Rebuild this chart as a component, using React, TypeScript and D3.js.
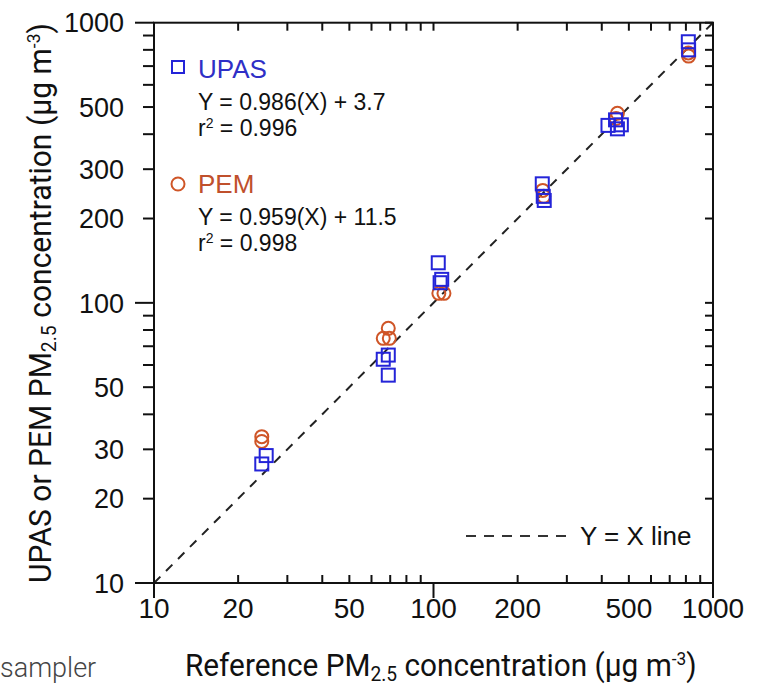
import React, { useLayoutEffect, useRef, useState } from "react";
import * as d3 from "d3";

const xLabelTicks = [10, 20, 50, 100, 200, 500, 1000];
const yLabelTicks = [10, 20, 30, 50, 100, 200, 300, 500, 1000];
const decadeTicks = [10, 100, 1000];

const upasX = [24.3, 25.2, 66.1, 68.9, 68.9, 104, 107, 105.6, 245, 247, 249, 421, 448, 470, 455, 816, 818];
const upasY = [26.6, 28.5, 62.9, 65.1, 55.2, 139, 121.3, 118, 266, 240, 232, 430, 450, 432, 418, 855, 800];
const pemX = [24.3, 24.3, 66.1, 68.9, 69.5, 104.5, 109, 246, 248, 455, 450, 816, 818];
const pemY = [32.0, 33.3, 74.7, 81.1, 74.7, 108.1, 108.1, 252, 240, 475, 455, 780, 760];

const upasLegend = ["UPAS", "Y = 0.986(X) + 3.7", "0.996"];
const pemLegend = ["PEM", "Y = 0.959(X) + 11.5", "0.998"];

const BLUE = "#2424d8";
const BLUE_TEXT = "#2f2fc6";
const ORANGE = "#cf5527";
const ORANGE_TEXT = "#c0502c";

const titleFont = "Roboto, 'Liberation Sans', sans-serif";

function FitTitle({ cx, cy, rotate, width, prefix }: { cx: number; cy: number; rotate: number; width: number; prefix: string }) {
  const ref = useRef<SVGTextElement>(null);
  const [sx, setSx] = useState(1);
  const [w0, setW0] = useState(width);
  useLayoutEffect(() => {
    if (ref.current) {
      const w = ref.current.getBBox().width;
      if (w > 0) {
        setW0(w);
        setSx(width / w);
      }
    }
  }, [width]);
  return (
    <g transform={`translate(${cx},${cy}) rotate(${rotate}) scale(${sx},1) translate(${-w0 / 2},0)`}>
      <text ref={ref} x={0} y={0} fontFamily={titleFont} fontSize={31} fill="#111">
        {prefix} PM<tspan dy={5} fontSize={20}>2.5</tspan><tspan dy={-5}> concentration (µg m</tspan><tspan dy={-11} fontSize={18}>-3</tspan><tspan dy={11}>)</tspan>
      </text>
    </g>
  );
}

export default function App() {
  const W = 766, H = 687;
  const x = d3.scaleLog().domain([10, 1000]).range([154, 713]);
  const y = d3.scaleLog().domain([10, 1000]).range([583, 22.7]);

  const minor: number[] = [];
  for (const base of [10, 100]) for (let k = 2; k <= 9; k++) minor.push(base * k);

  const font = "'Liberation Sans', Arial, Helvetica, sans-serif";
  const diag = d3.line<number>().x((v) => x(v)).y((v) => y(v));

  return (
    <div style={{ position: "fixed", left: 0, top: 0 }}>
      <svg width={W} height={H} style={{ display: "block", background: "#fff" }}>
        {/* y = x line */}
        <path d={diag([10, 1000]) || ""} stroke="#222" strokeWidth={2} strokeDasharray="9,8" fill="none" />

        {/* frame */}
        <rect x={x(10)} y={y(1000)} width={x(1000) - x(10)} height={y(10) - y(1000)} fill="none" stroke="#111" strokeWidth={2} />

        {/* left ticks (outward) */}
        {minor.map((v) => (
          <line key={"ly" + v} x1={x(10) - 11} x2={x(10)} y1={y(v)} y2={y(v)} stroke="#111" strokeWidth={2} />
        ))}
        {decadeTicks.map((v) => (
          <line key={"lyd" + v} x1={x(10) - 19} x2={x(10)} y1={y(v)} y2={y(v)} stroke="#111" strokeWidth={2} />
        ))}
        {/* right ticks (inward) */}
        {minor.concat(decadeTicks).map((v) => (
          <line key={"ry" + v} x1={x(1000) - 8} x2={x(1000)} y1={y(v)} y2={y(v)} stroke="#111" strokeWidth={2} />
        ))}
        {/* bottom ticks */}
        {minor.map((v) => (
          <line key={"bx" + v} x1={x(v)} x2={x(v)} y1={y(10) - 8} y2={y(10)} stroke="#111" strokeWidth={2} />
        ))}
        {decadeTicks.map((v) => (
          <line key={"bxd" + v} x1={x(v)} x2={x(v)} y1={y(10)} y2={y(10) + 15} stroke="#111" strokeWidth={2} />
        ))}
        {/* top ticks (inward) */}
        {minor.concat(decadeTicks).map((v) => (
          <line key={"tx" + v} x1={x(v)} x2={x(v)} y1={y(1000)} y2={y(1000) + 8} stroke="#111" strokeWidth={2} />
        ))}

        {/* y tick labels */}
        {yLabelTicks.map((v) => (
          <text key={"yl" + v} x={124} y={y(v)} dy="0.36em" textAnchor="end" fontFamily={font} fontSize={27} fill="#111">
            {v}
          </text>
        ))}
        {/* x tick labels */}
        {xLabelTicks.map((v) => (
          <text key={"xl" + v} x={x(v)} y={618} textAnchor="middle" fontFamily={font} fontSize={28} fill="#111">
            {v}
          </text>
        ))}

        {/* PEM circles */}
        {pemX.map((v, i) => (
          <circle key={"p" + i} cx={x(v)} cy={y(pemY[i])} r={6.5} fill="none" stroke={ORANGE} strokeWidth={2} />
        ))}
        {/* UPAS squares */}
        {upasX.map((v, i) => (
          <rect key={"u" + i} x={x(v) - 6.5} y={y(upasY[i]) - 6.5} width={13} height={13} fill="none" stroke={BLUE} strokeWidth={2} />
        ))}

        {/* Legend UPAS */}
        <rect x={172} y={61} width={12} height={12} fill="none" stroke={BLUE} strokeWidth={2} />
        <text x={198} y={78} fontFamily={font} fontSize={26} fill={BLUE_TEXT}>{upasLegend[0]}</text>
        <text x={198} y={110} fontFamily={font} fontSize={23} fill="#111">{upasLegend[1]}</text>
        <text x={198} y={136} fontFamily={font} fontSize={23} fill="#111">
          r<tspan dy={-8} fontSize={14}>2</tspan><tspan dy={8}> = {upasLegend[2]}</tspan>
        </text>

        {/* Legend PEM */}
        <circle cx={178} cy={184} r={6.5} fill="none" stroke={ORANGE} strokeWidth={2} />
        <text x={198} y={193} fontFamily={font} fontSize={26} fill={ORANGE_TEXT}>{pemLegend[0]}</text>
        <text x={198} y={225} fontFamily={font} fontSize={23} fill="#111">{pemLegend[1]}</text>
        <text x={198} y={251} fontFamily={font} fontSize={23} fill="#111">
          r<tspan dy={-8} fontSize={14}>2</tspan><tspan dy={8}> = {pemLegend[2]}</tspan>
        </text>

        {/* Y = X legend */}
        <line x1={466} x2={568} y1={536} y2={536} stroke="#333" strokeWidth={2} strokeDasharray="10,8" />
        <text x={580} y={545} fontFamily={font} fontSize={26} fill="#111">Y = X line</text>

        {/* axis titles */}
        <FitTitle cx={441} cy={676} rotate={0} width={512} prefix="Reference" />
        <FitTitle cx={51} cy={303} rotate={-90} width={560} prefix="UPAS or PEM" />

        <text x={0} y={677} fontFamily={titleFont} fontWeight={300} fontSize={27} fill="#444">sampler</text>
      </svg>
    </div>
  );
}
